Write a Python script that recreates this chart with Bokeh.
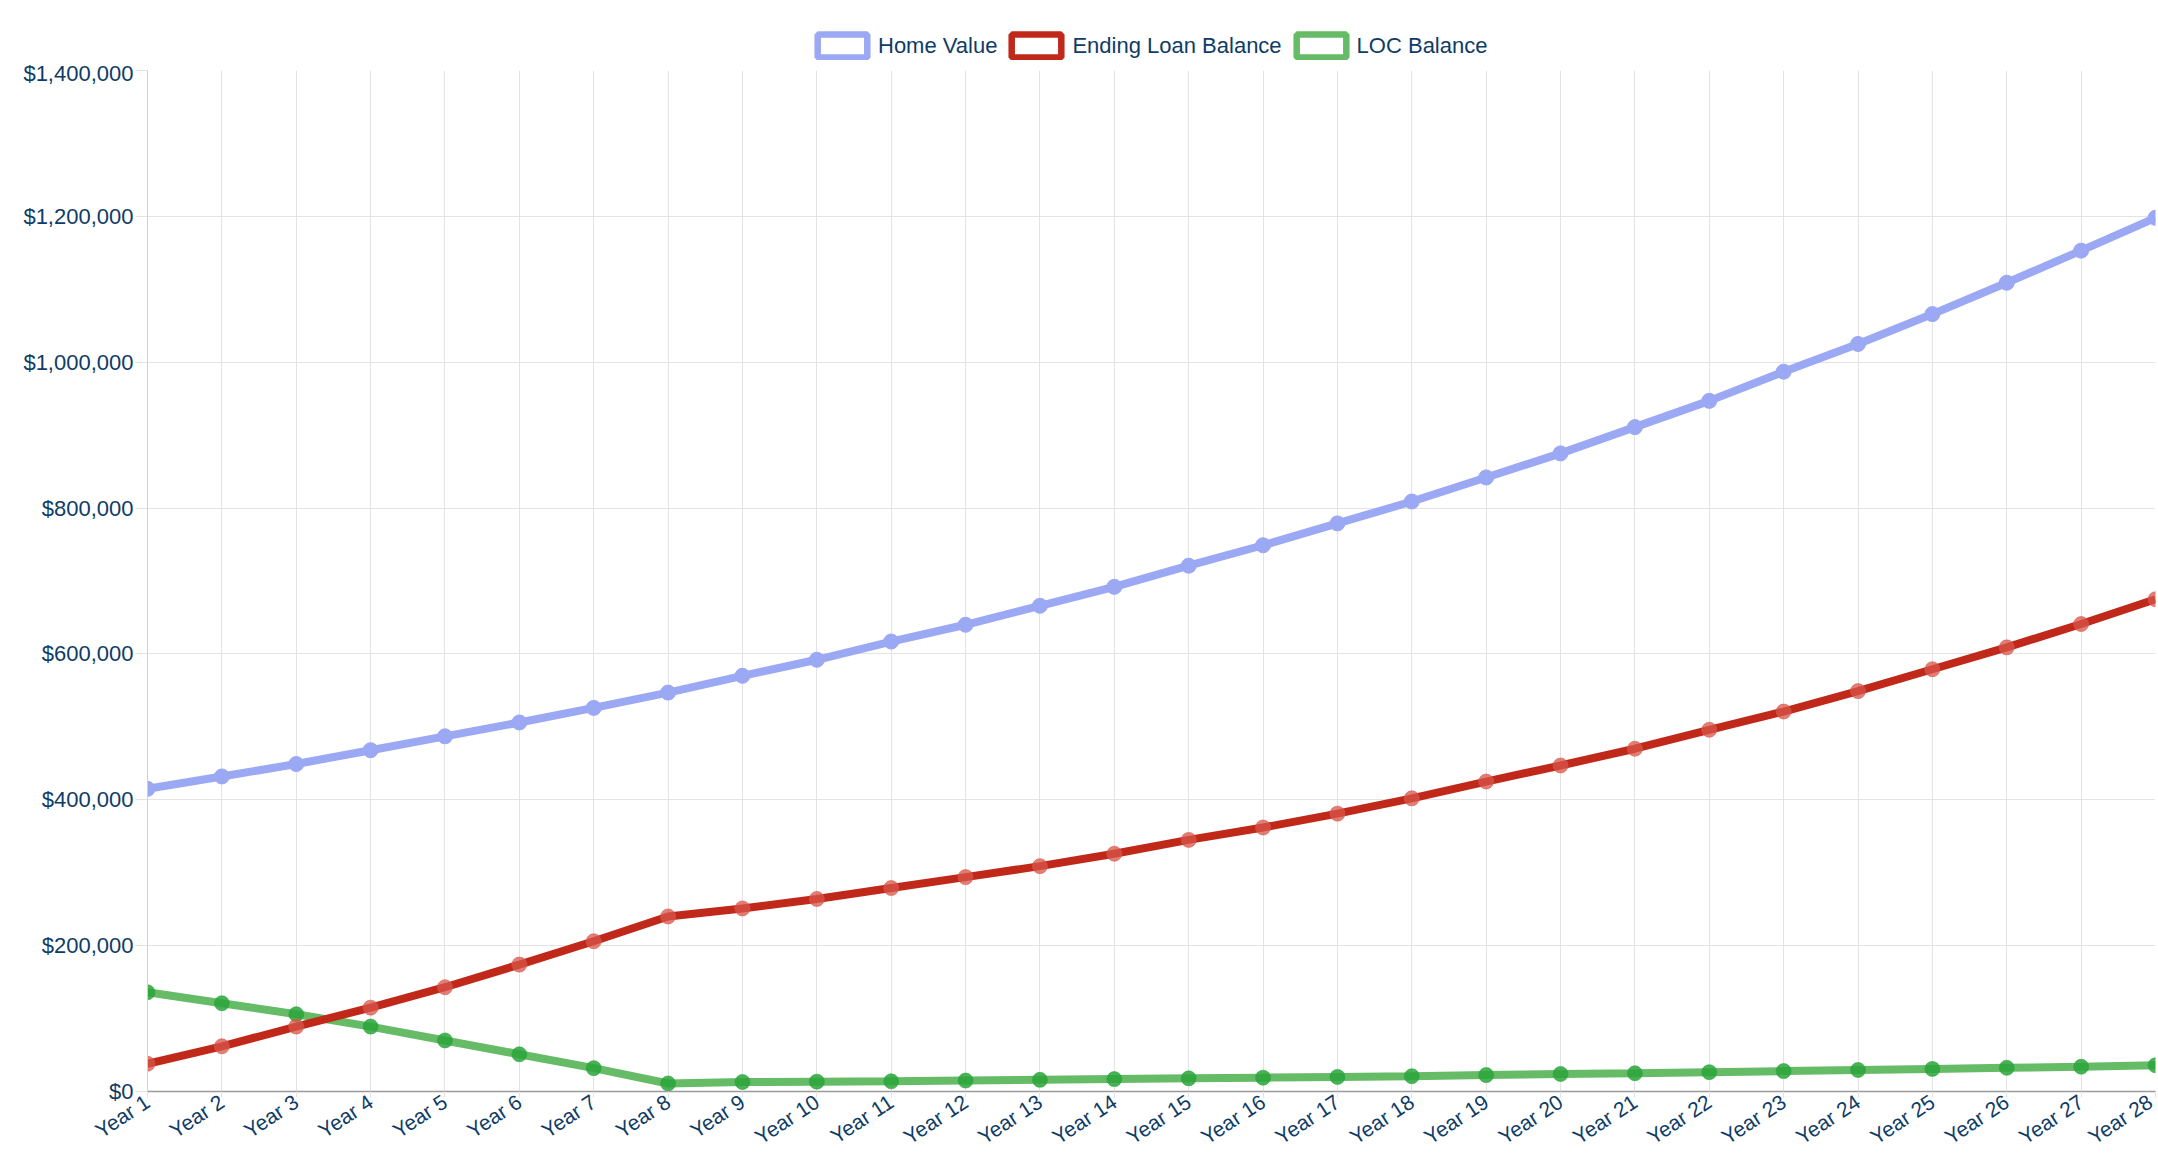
from bokeh.plotting import figure
from bokeh.layouts import column
from bokeh.models import (ColumnDataSource, Range1d, FixedTicker, NumeralTickFormatter,
                          Legend, LegendItem)
from bokeh.embed import file_html
from bokeh.resources import INLINE

years = [f"Year {i}" for i in range(1, 29)]
home_value = [415000, 432000, 449000, 468000, 487000, 506000, 526000, 547000, 570000, 592000,
              617000, 640000, 666000, 692000, 721000, 749000, 779000, 809000, 842000, 875000,
              911000, 947000, 987000, 1025000, 1066000, 1109000, 1153000, 1198000]
loan_balance = [38000, 62000, 89000, 115000, 143000, 174000, 206000, 240000, 251000, 264000,
                279000, 294000, 309000, 326000, 345000, 362000, 381000, 402000, 425000, 447000,
                470000, 496000, 521000, 549000, 579000, 609000, 641000, 675000]
loc_balance = [136000, 121000, 106000, 89000, 70000, 51000, 32000, 11000, 13000, 13500,
               14000, 15000, 16000, 17000, 18000, 19000, 20000, 21000, 22500, 24000,
               25000, 26500, 28000, 29500, 31000, 32500, 34000, 36000]
series_names = ["Home Value", "Ending Loan Balance", "LOC Balance"]
y_ticks = [0, 200000, 400000, 600000, 800000, 1000000, 1200000, 1400000]

TEXT = "#0F3C66"
FONT = "Liberation Sans"
BLUE, RED, GREEN = "#9BA8F4", "#C0281A", "#66BB66"

LEG_H = 60
MAIN_H = 1100
xpos = list(range(1, len(years) + 1))
src = ColumnDataSource(dict(x=xpos, home=home_value, loan=loan_balance, loc=loc_balance))

p = figure(width=2156, height=MAIN_H, output_backend="svg", toolbar_location=None,
           x_range=Range1d(1, len(years)), y_range=Range1d(0, 1400000),
           min_border_left=147, min_border_right=1, min_border_top=70 - LEG_H,
           min_border_bottom=MAIN_H - (1092 - LEG_H))
p.outline_line_color = None
p.background_fill_color = "white"

# axes
p.xaxis.ticker = FixedTicker(ticks=xpos)
p.xaxis.major_label_overrides = {i: lab for i, lab in zip(xpos, years)}
p.xaxis.major_label_orientation = 0.58
p.yaxis.ticker = FixedTicker(ticks=y_ticks)
p.yaxis.formatter = NumeralTickFormatter(format="$0,0")
for ax in (p.xaxis, p.yaxis):
    ax.major_label_text_font = FONT
    ax.major_label_text_color = TEXT
    ax.major_tick_in = 0
    ax.major_tick_line_color = "#e3e3e3"
    ax.minor_tick_line_color = None
p.yaxis.major_label_text_font_size = "22px"
p.yaxis.major_tick_out = 12
p.yaxis.major_label_standoff = 2
p.xaxis.major_label_text_font_size = "21px"
p.xaxis.major_tick_out = 6
p.xaxis.major_label_standoff = 2
p.xaxis.axis_line_color = "#9a9a9a"
p.xaxis.axis_line_width = 1.5
p.yaxis.axis_line_color = "#cfcfcf"
p.xgrid.grid_line_color = "#e3e3e3"
p.ygrid.grid_line_color = "#e3e3e3"
p.xgrid.ticker = FixedTicker(ticks=xpos)
p.ygrid.ticker = FixedTicker(ticks=y_ticks)

# series (drawn in reverse so first dataset is on top)
p.line("x", "loc", source=src, line_color=GREEN, line_width=8)
p.scatter("x", "loc", source=src, size=15, fill_color="#2AA53A", fill_alpha=0.85,
          line_color="#2AA53A", line_alpha=0.6)
p.line("x", "loan", source=src, line_color=RED, line_width=8)
p.scatter("x", "loan", source=src, size=15, fill_color="#D8564A", fill_alpha=0.75,
          line_color="#D8564A", line_alpha=0.6)
p.line("x", "home", source=src, line_color=BLUE, line_width=8)
p.scatter("x", "home", source=src, size=15, fill_color=BLUE, line_color=BLUE)

# legend strip above the chart (its frame is aligned with the chart frame by the column)
leg = figure(width=2156, height=LEG_H, output_backend="svg", toolbar_location=None,
             x_axis_location=None, y_axis_location=None,
             min_border_left=0, min_border_right=0, min_border_top=0, min_border_bottom=0)
leg.grid.visible = False
leg.outline_line_color = None
boxes = []
for col, color in zip(["home", "loan", "loc"], [BLUE, RED, GREEN]):
    r = leg.rect("x", col, width=1, height=1, source=src, fill_color="white",
                 line_color=color, line_width=6.5)
    r.visible = False
    boxes.append(r)

legend = Legend(items=[LegendItem(label=n, renderers=[r]) for n, r in zip(series_names, boxes)],
                orientation="horizontal", location=(664, 0),
                glyph_width=62, glyph_height=29, label_standoff=5, spacing=8,
                padding=0, margin=0, border_line_color=None, background_fill_alpha=0,
                inactive_fill_alpha=0, click_policy="none",
                label_text_font=FONT, label_text_font_size="22px", label_text_color=TEXT)
leg.add_layout(legend, "center")

layout = column(leg, p, spacing=0)
open("out.html", "w").write(file_html(layout, INLINE))
